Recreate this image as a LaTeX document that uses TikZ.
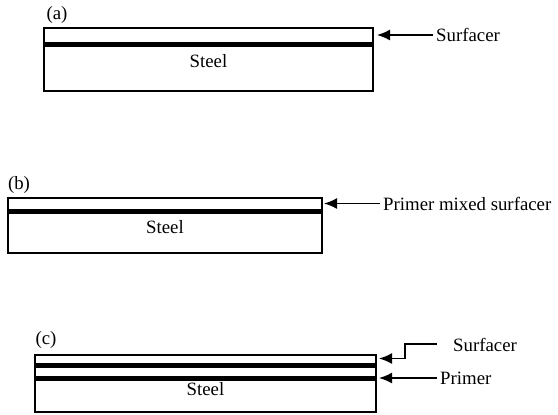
\documentclass[tikz,border=0pt]{standalone}
\usepackage{fontspec}
\setmainfont{Liberation Serif}
\usetikzlibrary{arrows.meta}
\tikzset{
	layer/.style={draw, line width=1.6bp},
	coat/.style={fill=black},
	pointer/.style={line width=1.6bp, -{Latex[length=13bp,width=11bp]}},
	tag/.style={anchor=west, inner sep=3bp},
}

\begin{document}
\begin{tikzpicture}[x=1bp, y=-1bp, font=\fontsize{18.8bp}{22bp}\selectfont]
		\useasboundingbox (0,0) rectangle (558,414);
		% (a) surfacer on steel
		\begin{scope}[shift={(44,28)}]
			\node[inner sep=0pt] (capA) at (13,-13) {(a)};
			\draw[layer] (0,0) rectangle (329,63);
			\fill[coat] (0,14) rectangle (329,19);
			\node[inner sep=0pt] (steelA) at (164.5,33) {Steel};
			
			\coordinate (tipA) at (333,7);
			\node[tag] (surfA) at (389,7) {Surfacer};
			\draw[pointer] (surfA.west) -- (tipA);
		\end{scope}
		% (b) primer mixed surfacer on steel
		\begin{scope}[shift={(8,198)}]
			\node[inner sep=0pt] (capB) at (11,-13) {(b)};
			\draw[layer] (0,0) rectangle (314,55);
			\fill[coat] (0,11) rectangle (314,16);
			\node[inner sep=0pt] (steelB) at (157,29) {Steel};
			
			\coordinate (tipB) at (316,5.5);
			\node[tag] (mixB) at (372,5.5) {Primer mixed surfacer};
			\draw[pointer] (mixB.west) -- (tipB);
		\end{scope}
		% (c) surfacer over primer on steel
		\begin{scope}[shift={(35,355)}]
			\node[inner sep=0pt] (capC) at (11,-15) {(c)};
			\draw[layer] (0,0) rectangle (341,57);
			\fill[coat] (0,8) rectangle (341,13);
			\fill[coat] (0,21) rectangle (341,25.5);
			\node[inner sep=0pt] (steelC) at (170.5,34) {Steel};
			
			\coordinate (tipC) at (344,3.5);
			\coordinate (kneeC) at (370,-11);
			\coordinate (startC) at (402,-11);
			\node[tag] (surfC) at (415,-10) {Surfacer};
			\draw[pointer] (startC) -- (kneeC) |- (tipC);
			
			\coordinate (tipP) at (344,23);
			\node[tag] (primC) at (402,23) {Primer};
			\draw[pointer] (primC.west) -- (tipP);
		\end{scope}
	\end{tikzpicture}
\end{document}
